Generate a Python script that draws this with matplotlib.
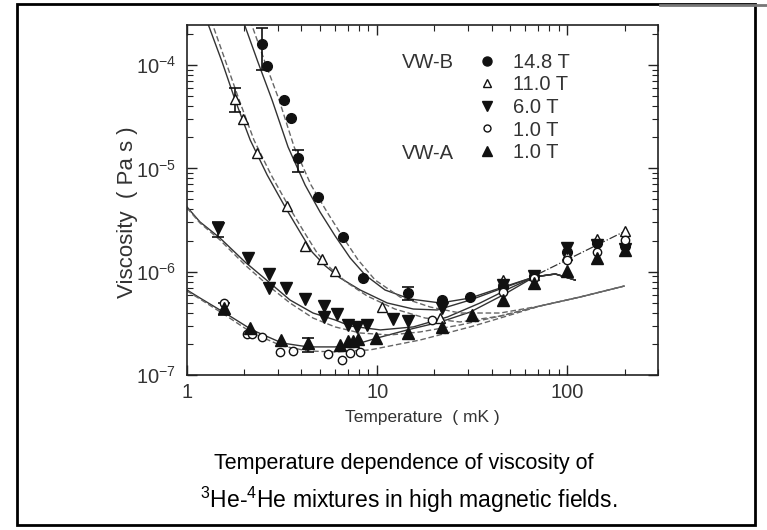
import matplotlib
matplotlib.use('Agg')
import matplotlib.pyplot as plt
from matplotlib.lines import Line2D
from matplotlib.patches import Rectangle
from matplotlib import ticker

plt.rcParams['font.family'] = ['Liberation Sans', 'DejaVu Sans']
plt.rcParams['mathtext.fontset'] = 'custom'
plt.rcParams['mathtext.rm'] = 'Liberation Sans'
plt.rcParams['mathtext.it'] = 'Liberation Sans:italic'
plt.rcParams['mathtext.bf'] = 'Liberation Sans:bold'

# ---------------- data (T in mK, viscosity in Pa s) ----------------
# VW-B 14.8 T (filled circles)
t_148 = [2.48, 2.64, 3.24, 3.53, 3.84, 4.89, 6.62, 8.44, 14.6, 22.0, 30.9, 46, 67, 100, 144, 200]
v_148 = [1.60e-4, 9.8e-5, 4.6e-5, 3.07e-5, 1.26e-5, 5.28e-6, 2.17e-6, 8.69e-7, 6.22e-7, 5.32e-7,
         5.69e-7, 7.1e-7, 9.1e-7, 1.55e-6, 1.90e-6, 1.77e-6]
# VW-B 11.0 T (open triangles)
t_110 = [1.79, 1.97, 2.33, 3.36, 4.18, 5.13, 6.01, 10.6, 21.5, 46, 67, 100, 144, 200]
v_110 = [4.70e-5, 3.01e-5, 1.41e-5, 4.33e-6, 1.77e-6, 1.33e-6, 1.02e-6, 4.55e-7, 3.56e-7,
         8.3e-7, 9.29e-7, 1.45e-6, 2.07e-6, 2.48e-6]
# VW-B 6.0 T (filled down triangles)
t_60 = [1.46, 2.09, 2.70, 2.70, 3.32, 4.18, 5.26, 5.26, 6.16, 7.03, 7.85, 8.86, 12.1, 14.6, 22.0,
        46, 67, 100, 144, 200]
v_60 = [2.65e-6, 1.36e-6, 9.5e-7, 6.95e-7, 6.95e-7, 5.44e-7, 4.66e-7, 3.64e-7, 3.89e-7, 3.05e-7,
        2.92e-7, 3.05e-7, 3.48e-7, 3.33e-7, 4.45e-7, 7.4e-7, 9.1e-7, 1.70e-6, 1.81e-6, 1.66e-6]
# VW-B 1.0 T (open circles)
t_10b = [1.57, 2.07, 2.20, 2.48, 3.09, 3.61, 5.52, 6.54, 7.21, 8.14, 19.5, 46, 67, 100, 144, 200]
v_10b = [4.98e-7, 2.49e-7, 2.49e-7, 2.33e-7, 1.67e-7, 1.71e-7, 1.60e-7, 1.40e-7, 1.63e-7, 1.67e-7,
         3.41e-7, 6.36e-7, 8.69e-7, 1.30e-6, 1.55e-6, 2.03e-6]
# VW-A 1.0 T (filled up triangles)
t_10a = [1.57, 2.15, 3.12, 4.33, 6.39, 7.03, 7.48, 7.94, 9.88, 14.6, 22.0, 31.6, 46, 67, 100, 144, 200]
v_10a = [4.45e-7, 2.85e-7, 2.18e-7, 2.04e-7, 1.95e-7, 2.13e-7, 2.13e-7, 2.23e-7, 2.28e-7, 2.55e-7,
         2.92e-7, 3.81e-7, 5.32e-7, 7.78e-7, 1.02e-6, 1.36e-6, 1.62e-6]

# error bars: (T, value, lower end, upper end)
eb_148 = ([2.48, 3.84, 14.6], [1.60e-4, 1.26e-5, 6.22e-7], [8.97e-5, 9.2e-6, 5.32e-7], [2.29e-4, 1.51e-5, 7.11e-7])
eb_110 = ([1.79], [4.70e-5], [3.52e-5], [6.0e-5])
eb_60 = ([1.46], [2.65e-6], [2.17e-6], [3.03e-6])
eb_10a = ([1.57, 4.33], [4.45e-7, 2.04e-7], [3.81e-7, 1.67e-7], [4.98e-7, 2.28e-7])

# theory curves (solid and dashed)
s148_t = [1.97, 2.36, 2.80, 3.40, 4.18, 5.01, 6.01, 7.21, 8.65, 11.0, 14.9, 21.5, 30.9, 44.4, 67.0, 86.5, 110]
s148_v = [2.7e-4, 1.07e-4, 4.60e-5, 1.61e-5, 6.90e-6, 3.78e-6, 2.22e-6, 1.36e-6, 9.29e-7, 6.65e-7,
          5.44e-7, 4.98e-7, 5.56e-7, 6.95e-7, 8.89e-7, 9.5e-7, 8.3e-7]
d148_t = [2.15, 2.57, 3.05, 3.66, 4.49, 5.45, 6.54, 7.94, 9.76, 13.2, 19.0, 27.3, 44.4, 72.1, 117, 200]
d148_v = [2.7e-4, 1.07e-4, 4.60e-5, 1.61e-5, 6.90e-6, 3.78e-6, 2.22e-6, 1.30e-6, 8.3e-7, 5.69e-7,
          4.55e-7, 3.98e-7, 3.98e-7, 4.66e-7, 5.69e-7, 7.27e-7]
s110_t = [1.27, 1.53, 1.79, 2.15, 2.64, 3.28, 3.93, 4.55, 5.33, 6.39, 8.14, 11.3, 15.5, 20.7, 30.9, 44.4, 67.0, 86.5, 110]
s110_v = [2.7e-4, 1.07e-4, 4.60e-5, 1.88e-5, 8.63e-6, 4.23e-6, 2.42e-6, 1.55e-6, 1.14e-6, 8.69e-7,
          6.65e-7, 4.98e-7, 4.35e-7, 4.26e-7, 5.32e-7, 6.80e-7, 8.89e-7, 9.5e-7, 8.3e-7]
d110_t = [1.34, 1.60, 1.88, 2.25, 2.77, 3.44, 4.13, 4.83, 5.66, 6.87, 8.86, 12.4, 17.9, 27.3, 44.4, 72.1, 117, 200]
d110_v = [2.7e-4, 1.07e-4, 4.60e-5, 1.88e-5, 8.63e-6, 4.23e-6, 2.42e-6, 1.52e-6, 1.09e-6, 7.94e-7,
          5.82e-7, 4.35e-7, 3.56e-7, 3.26e-7, 3.72e-7, 4.66e-7, 5.69e-7, 7.27e-7]
s60_t = [1.0, 1.17, 1.49, 2.02, 2.73, 3.48, 4.60, 6.01, 7.21, 10.4, 15.5, 23.4, 34.8, 50.1, 67.0, 86.5, 110]
s60_v = [4.23e-6, 3.03e-6, 2.12e-6, 1.24e-6, 7.78e-7, 5.32e-7, 3.98e-7, 3.41e-7, 2.98e-7, 2.73e-7,
         2.92e-7, 3.64e-7, 4.98e-7, 6.95e-7, 8.89e-7, 9.5e-7, 8.3e-7]
d60_t = [1.0, 1.17, 1.49, 2.02, 2.73, 3.48, 4.60, 6.01, 8.14, 11.7, 16.8, 27.3, 44.4, 72.1, 117, 200]
d60_v = [4.14e-6, 2.96e-6, 2.03e-6, 1.16e-6, 7.11e-7, 4.98e-7, 3.56e-7, 2.92e-7, 2.55e-7, 2.44e-7,
         2.61e-7, 3.05e-7, 3.72e-7, 4.66e-7, 5.69e-7, 7.27e-7]
s10_t = [1.0, 1.17, 1.585, 2.20, 3.16, 4.33, 6.01, 7.48, 10.0, 14.4, 21.5, 30.9, 46.0, 67.0, 86.5, 110]
s10_v = [6.65e-7, 5.56e-7, 3.98e-7, 2.73e-7, 2.04e-7, 1.87e-7, 1.87e-7, 1.95e-7, 2.28e-7, 2.73e-7,
         3.26e-7, 4.07e-7, 5.95e-7, 8.89e-7, 9.5e-7, 8.3e-7]
d10_t = [1.0, 1.17, 1.585, 2.20, 3.16, 4.33, 6.01, 9.19, 16.8, 30.9, 44.4, 72.1, 117, 200]
d10_v = [6.50e-7, 5.44e-7, 3.81e-7, 2.55e-7, 1.91e-7, 1.71e-7, 1.67e-7, 1.75e-7, 2.18e-7, 2.92e-7,
         3.56e-7, 4.66e-7, 5.69e-7, 7.27e-7]
# dash-dot line through high temperature data
dd_t = [70.4, 197]
dd_v = [9.5e-7, 2.42e-6]

legend_labels = ['14.8 T', '11.0 T', '6.0 T', '1.0 T', '1.0 T']

# ---------------- figure ----------------
W, H = 767, 530
fig = plt.figure(figsize=(W / 100, H / 100), dpi=100)
ax = fig.add_axes([187 / W, 1 - 375 / H, (658 - 187) / W, (375 - 25) / H])
ax.set_xscale('log')
ax.set_yscale('log')
ax.set_xlim(1, 300)
ax.set_ylim(1e-7, 2.44e-4)

lc = '#333333'
for t, v in [(s148_t, s148_v), (s110_t, s110_v), (s60_t, s60_v), (s10_t, s10_v)]:
    ax.plot(t, v, '-', color=lc, lw=1.0, zorder=2)
for t, v in [(d148_t, d148_v), (d110_t, d110_v), (d60_t, d60_v), (d10_t, d10_v)]:
    ax.plot(t, v, '--', color='#666666', lw=1.0, dashes=(4, 2), zorder=2)
ax.plot(dd_t, dd_v, '-.', color=lc, lw=0.9, zorder=2)

mc = '#111111'
ms = 7
ax.plot(t_148, v_148, 'o', color=mc, ms=ms, ls='none', zorder=4)
ax.plot(t_110, v_110, '^', mfc='white', mec=mc, mew=1.0, ms=ms, ls='none', zorder=4)
ax.plot(t_60, v_60, 'v', color=mc, ms=ms + 1, ls='none', zorder=4)
ax.plot(t_10b, v_10b, 'o', mfc='white', mec=mc, mew=1.0, ms=ms - 1, ls='none', zorder=4)
ax.plot(t_10a, v_10a, '^', color=mc, ms=ms + 1, ls='none', zorder=4)

for tt, vv, lo, hi in [eb_148, eb_110, eb_60, eb_10a]:
    yerr = [[v - l for v, l in zip(vv, lo)], [h - v for v, h in zip(vv, hi)]]
    ax.errorbar(tt, vv, yerr=yerr, fmt='none', ecolor=mc, elinewidth=1.2, capsize=4, capthick=1.2, zorder=3)

# axes styling
tc = '#333333'
for sp in ax.spines.values():
    sp.set_color('#222222')
    sp.set_linewidth(1.2)
ax.tick_params(which='both', direction='in', top=True, right=True, colors='#222222', labelcolor=tc)
ax.tick_params(which='major', length=7, width=1.0, labelsize=14.5)
ax.tick_params(axis='x', which='major', pad=6)
ax.tick_params(axis='y', which='major', pad=8)
ax.tick_params(which='minor', length=4, width=0.8)
ax.xaxis.set_major_locator(ticker.LogLocator(base=10))
ax.xaxis.set_major_formatter(ticker.FuncFormatter(lambda x, p: '%d' % round(x)))
ax.xaxis.set_minor_locator(ticker.LogLocator(base=10, subs=range(2, 10)))
ax.xaxis.set_minor_formatter(ticker.NullFormatter())
ax.yaxis.set_major_locator(ticker.LogLocator(base=10))
ax.yaxis.set_minor_locator(ticker.LogLocator(base=10, subs=range(2, 10)))
ax.yaxis.set_minor_formatter(ticker.NullFormatter())

ax.set_xlabel('Temperature  ( mK )', fontsize=12.5, color=tc)
ax.set_ylabel('Viscosity  ( Pa s )', fontsize=16, color=tc)
ax.xaxis.set_label_coords(0.5, -0.10)
ax.yaxis.set_label_coords(-0.105, 0.466)

# legend
handles = [
    Line2D([], [], marker='o', color=mc, ls='none', ms=6.5),
    Line2D([], [], marker='^', mfc='white', mec=mc, ls='none', ms=6),
    Line2D([], [], marker='v', color=mc, ls='none', ms=7.5),
    Line2D([], [], marker='o', mfc='white', mec=mc, ls='none', ms=5),
    Line2D([], [], marker='^', color=mc, ls='none', ms=7.5),
]
leg = ax.legend(handles, legend_labels, loc='upper left', bbox_to_anchor=(0.6157, 0.921),
                frameon=False, fontsize=14.5, handlelength=1.0, handletextpad=0.79,
                labelspacing=0.18, borderpad=0, borderaxespad=0)
for txt in leg.get_texts():
    txt.set_color(tc)
ax.text(0.4565, 0.894, 'VW-B', transform=ax.transAxes, fontsize=14.5, color=tc, va='center', ha='left')
ax.text(0.4565, 0.634, 'VW-A', transform=ax.transAxes, fontsize=14.5, color=tc, va='center', ha='left')

# caption
fig.text(214 / W, 1 - 463 / H, 'Temperature dependence of viscosity of', fontsize=15.5,
         ha='left', va='center', color='black')
fig.text(200 / W, 1 - 500 / H, r'$^{3}$He-$^{4}$He mixtures in high magnetic fields.', fontsize=16.5,
         ha='left', va='center', color='black')

# outer frame
fig.add_artist(Rectangle((17 / W, 1 - 525 / H), (755 - 17) / W, (525 - 4) / H, transform=fig.transFigure,
                         fill=False, edgecolor='black', lw=2))
fig.add_artist(Line2D([660 / W, 1.0], [1 - 5 / H, 1 - 5 / H], transform=fig.transFigure, color='#777777', lw=2))

fig.savefig('out.png', dpi=100)
